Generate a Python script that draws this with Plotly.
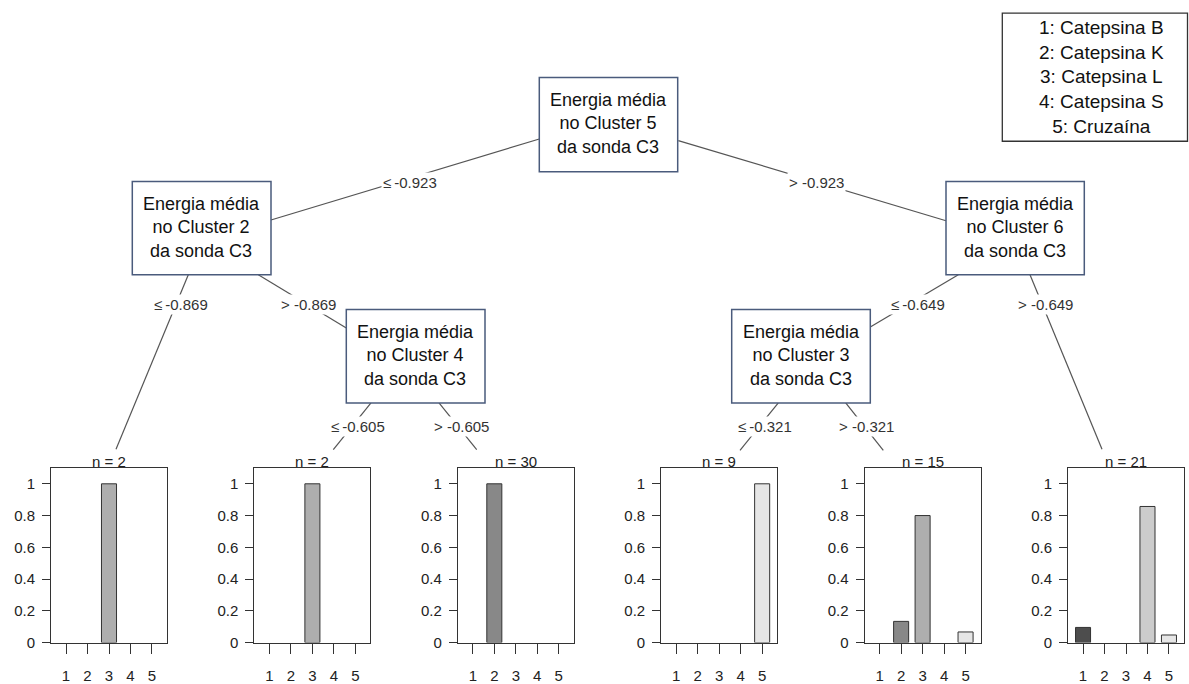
import plotly.graph_objects as go

W, H = 1189, 684
FONT = "Liberation Sans, Arial, sans-serif"

# ---------------- data ----------------
categories = [1, 2, 3, 4, 5]
class_names = ["Catepsina B", "Catepsina K", "Catepsina L", "Catepsina S", "Cruzaína"]
class_colors = ["#4D4D4D", "#888888", "#AEAEAE", "#CCCCCC", "#E6E6E6"]

node_n = [2, 2, 30, 9, 15, 21]
prop_t1 = [0, 0, 1, 0, 0]
prop_t2 = [0, 0, 1, 0, 0]
prop_t3 = [0, 1, 0, 0, 0]
prop_t4 = [0, 0, 0, 0, 1]
prop_t5 = [0, 2 / 15, 12 / 15, 0, 1 / 15]
prop_t6 = [2 / 21, 0, 0, 18 / 21, 1 / 21]
terminal_props = [prop_t1, prop_t2, prop_t3, prop_t4, prop_t5, prop_t6]

inner_labels = [
    "Energia média<br>no Cluster 5<br>da sonda C3",
    "Energia média<br>no Cluster 2<br>da sonda C3",
    "Energia média<br>no Cluster 6<br>da sonda C3",
    "Energia média<br>no Cluster 4<br>da sonda C3",
    "Energia média<br>no Cluster 3<br>da sonda C3",
]
split_labels = ["≤\u2009-0.923", "> -0.923", "≤\u2009-0.869", "> -0.869", "≤\u2009-0.649",
                "> -0.649", "≤\u2009-0.605", "> -0.605", "≤\u2009-0.321", "> -0.321"]
ytick_vals = [0, 0.2, 0.4, 0.6, 0.8, 1]
ytick_text = ["0", "0.2", "0.4", "0.6", "0.8", "1"]

# ---------------- layout geometry (pixels) ----------------
panel_left = [51, 254.4, 457.8, 661.2, 864.6, 1068]
panel_w = 116
panel_top, panel_bot = 477, 655

# inner node boxes: x0, x1, y0, y1
inner_boxes = [
    (539.3, 677.7, 79, 175),
    (132.3, 271, 185, 280),
    (946, 1084.3, 185, 280),
    (346.3, 485, 315.5, 410.7),
    (731.7, 870.3, 315.5, 410.7),
]
# edges (visible segments): x0, y0, x1, y1
edges = [
    (539.3, 141.7, 271, 224.3),
    (678.3, 143.3, 946, 225),
    (188.3, 280, 116, 458),
    (258.3, 280, 346.3, 334.3),
    (958.3, 280, 870.3, 333.3),
    (1030, 280, 1102, 458),
    (371, 410.7, 333.3, 458.3),
    (439, 410.7, 476.7, 458.3),
    (778.3, 410.7, 740, 459),
    (845.7, 410.7, 883.3, 459),
]
split_pos = [(410, 185.7), (816.7, 186), (181, 310), (308.3, 310), (918.3, 310),
             (1045.7, 310), (358.3, 435), (461, 435), (765, 435), (866.7, 435)]

fig = go.Figure()
layout = dict(
    width=W, height=H, margin=dict(l=0, r=0, t=0, b=0, pad=0),
    paper_bgcolor="white", plot_bgcolor="rgba(0,0,0,0)",
    showlegend=False, font=dict(family=FONT, color="#222"),
)

ydom = [1 - panel_bot / H, 1 - panel_top / H]
for i, props in enumerate(terminal_props):
    k = i + 1
    xa = "x" if k == 1 else f"x{k}"
    ya = "y" if k == 1 else f"y{k}"
    xs = [c for c, p in zip(categories, props) if p > 0]
    ys = [p for p in props if p > 0]
    cs = [col for col, p in zip(class_colors, props) if p > 0]
    fig.add_trace(go.Bar(
        x=xs, y=ys, width=0.7, xaxis=xa, yaxis=ya,
        marker=dict(color=cs, line=dict(color="#333", width=1)),
        hoverinfo="skip",
    ))
    xd = [panel_left[i] / W, (panel_left[i] + panel_w) / W]
    layout["xaxis" if k == 1 else f"xaxis{k}"] = dict(
        domain=xd, anchor=ya, range=[0.3, 5.7], tickvals=categories,
        ticks="outside", ticklen=10, tickwidth=1, tickcolor="#333",
        showline=True, linecolor="#333", linewidth=1, mirror=True,
        showgrid=False, zeroline=False, fixedrange=True,
        tickfont=dict(size=15, color="#222", family=FONT), ticklabelstandoff=9,
    )
    layout["yaxis" if k == 1 else f"yaxis{k}"] = dict(
        domain=ydom, anchor=xa, range=[0, 1.1], tickvals=ytick_vals, ticktext=ytick_text,
        ticks="outside", ticklen=8, tickwidth=1, tickcolor="#333",
        showline=True, linecolor="#333", linewidth=1, mirror=True,
        showgrid=False, zeroline=False, fixedrange=True,
        tickfont=dict(size=15, color="#222", family=FONT), ticklabelstandoff=4,
    )

# overlay pixel axis for the tree
layout["xaxis7"] = dict(domain=[0, 1], range=[0, W], visible=False, fixedrange=True, anchor="y7")
layout["yaxis7"] = dict(domain=[0, 1], range=[H, 0], visible=False, fixedrange=True, anchor="x7")

for (x0, y0, x1, y1) in edges:
    fig.add_trace(go.Scatter(x=[x0, x1], y=[y0, y1], mode="lines", xaxis="x7", yaxis="y7",
                             line=dict(color="#555", width=1.2), hoverinfo="skip"))

shapes, annotations = [], []
for (x0, x1, y0, y1), lab in zip(inner_boxes, inner_labels):
    shapes.append(dict(type="rect", xref="x7", yref="y7", x0=x0, x1=x1, y0=y0, y1=y1,
                       fillcolor="white", line=dict(color="#4A5B7C", width=1.5)))
    annotations.append(dict(xref="x7", yref="y7", x=(x0 + x1) / 2, y=(y0 + y1) / 2 - 1,
                            text=lab, showarrow=False,
                            font=dict(size=18, color="#111", family=FONT)))

for (x, y), lab in zip(split_pos, split_labels):
    annotations.append(dict(xref="x7", yref="y7", x=x, y=y, text=lab, showarrow=False,
                            bgcolor="white", borderpad=1,
                            font=dict(size=15, color="#333", family=FONT)))

for i, n in enumerate(node_n):
    annotations.append(dict(xref="x7", yref="y7", x=panel_left[i] + panel_w / 2, y=470,
                            text=f"n = {n}", showarrow=False,
                            font=dict(size=15, color="#222", family=FONT)))

# class legend box
shapes.append(dict(type="rect", xref="x7", yref="y7", x0=1002.3, x1=1187.5, y0=13.3, y1=144,
                   fillcolor="white", line=dict(color="#333", width=1.3)))
legend_text = "<br>".join(f"{c}: {nm}" for c, nm in zip(categories, class_names))
annotations.append(dict(xref="x7", yref="y7", x=1101, y=78.5, text=legend_text,
                        showarrow=False, font=dict(size=19, color="#111", family=FONT)))

layout["shapes"] = shapes
layout["annotations"] = annotations
fig.update_layout(**layout)
fig.write_html("out.html")
